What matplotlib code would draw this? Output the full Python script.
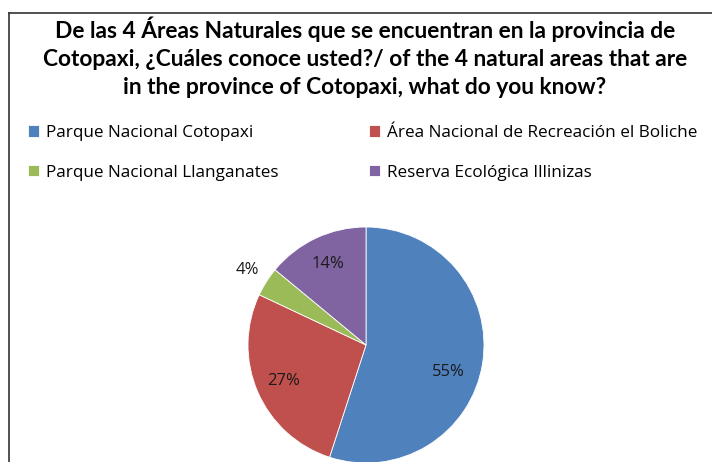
import numpy as np
import matplotlib
matplotlib.use("Agg")
import matplotlib.pyplot as plt
from matplotlib.lines import Line2D

categories = ["Parque Nacional Cotopaxi", "Área Nacional de Recreación el Boliche",
              "Parque Nacional Llanganates", "Reserva Ecológica Illinizas"]
values = [55, 27, 4, 14]
colors = ["#4F81BD", "#C0504D", "#9BBB59", "#8064A2"]
title = ("De las 4 Áreas Naturales que se encuentran en la provincia de\n"
         "Cotopaxi, ¿Cuáles conoce usted?/ of the 4 natural areas that are\n"
         "in the province of Cotopaxi, what do you know?")

W, H = 712, 462
fig = plt.figure(figsize=(W / 100, H / 100), dpi=100)
fig.patch.set_facecolor("white")

# frame lines (left and top)
ytop = 1 - 12.5 / H
fig.add_artist(Line2D([9 / W, 9 / W], [0, ytop], color="#333333", lw=1.2))
fig.add_artist(Line2D([9 / W, 1], [ytop, ytop], color="#333333", lw=1.2))

fig.text(365 / W, 1 - 57 / H, title, ha="center", va="center", fontsize=16.4,
         fontweight="bold", family="Lato", linespacing=1.4, color="black")

cx, cy, r = 366, 345, 118
ax = fig.add_axes([(cx - r) / W, (H - cy - r) / H, 2 * r / W, 2 * r / H])
wedges, texts, autotexts = ax.pie(values, colors=colors, startangle=90, counterclock=False,
                                  autopct="%1.0f%%", pctdistance=0.76,
                                  wedgeprops=dict(linewidth=0.6, edgecolor="white"),
                                  textprops=dict(fontsize=12, family="Open Sans", color="#1a1a1a"))
ax.set_xlim(-1, 1)
ax.set_ylim(-1, 1)
ax.set_aspect("equal")
ax.axis("off")

# adjust label positions like the original
a = np.deg2rad(-18)
autotexts[0].set_position((0.73 * np.cos(a), 0.73 * np.sin(a)))
a = np.deg2rad(147.6)
autotexts[2].set_position((1.19 * np.cos(a), 1.19 * np.sin(a)))

order = [0, 2, 1, 3]
leg = fig.legend([wedges[i] for i in order], [categories[i] for i in order],
                 ncol=2, loc="upper left", bbox_to_anchor=(28 / W, 1 - 125 / H),
                 frameon=False, prop=dict(family="Open Sans", size=12.3),
                 handlelength=0.65, handleheight=0.65, handletextpad=0.4,
                 labelspacing=1.38, columnspacing=5.3, borderpad=0, borderaxespad=0)

fig.savefig("out.png", dpi=100)
